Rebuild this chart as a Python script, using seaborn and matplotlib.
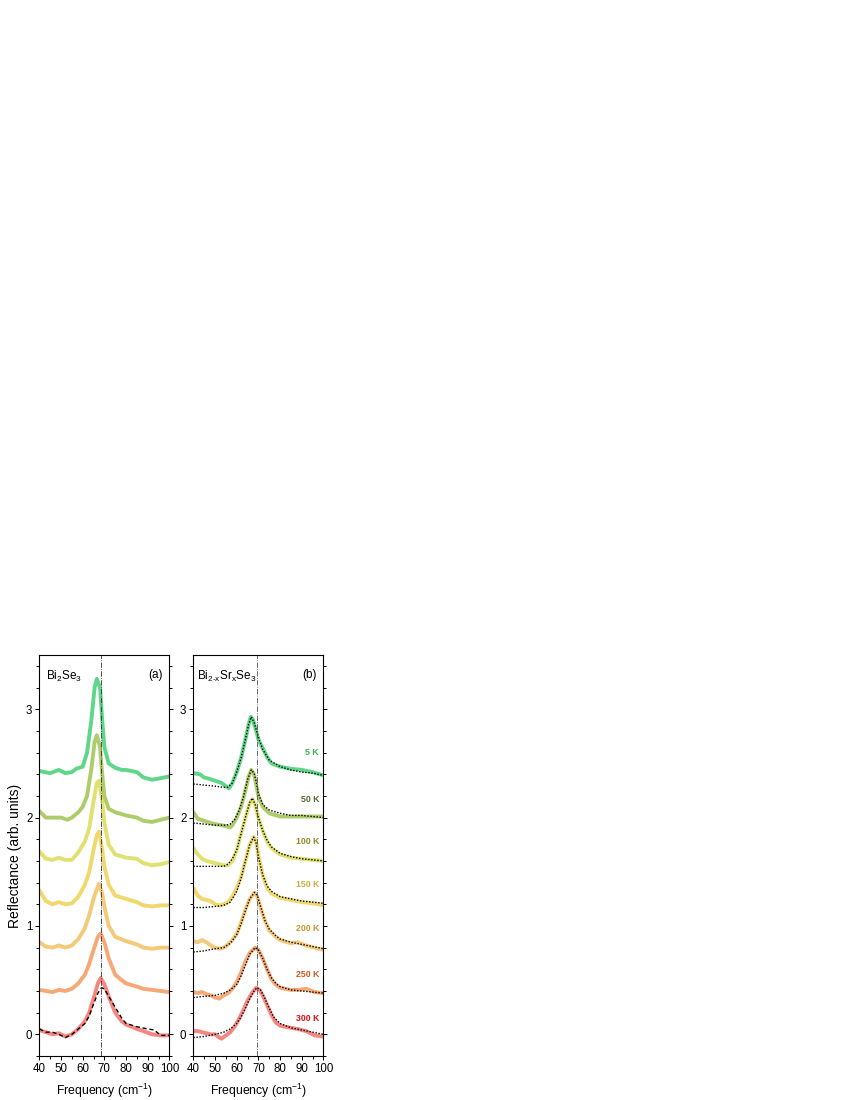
import numpy as np
import pandas as pd
import matplotlib
matplotlib.use('Agg')
import matplotlib.pyplot as plt
from matplotlib.ticker import MultipleLocator
import seaborn as sns

# ---- panel (a): Bi2Se3, offset spectra (bottom to top) ----
a_x_green = [40, 45, 49, 52, 55, 57, 60, 62, 64, 65.5, 66.5, 68, 69, 70, 72, 75, 78, 80, 85, 88, 92, 95, 100]
a_y_green = [2.43, 2.41, 2.44, 2.41, 2.42, 2.45, 2.47, 2.6, 2.9, 3.2, 3.28, 3.2, 2.9, 2.65, 2.5, 2.46, 2.44, 2.44, 2.42, 2.37, 2.35, 2.36, 2.38]

a_x_olive = [40, 43, 46, 50, 53, 55, 58, 60, 62, 64, 65.5, 66.5, 68, 69, 70, 72, 75, 80, 85, 88, 92, 96, 100]
a_y_olive = [2.06, 2.0, 2.0, 2.0, 1.98, 2.0, 2.05, 2.1, 2.2, 2.45, 2.7, 2.76, 2.65, 2.4, 2.2, 2.08, 2.05, 2.02, 2.0, 1.97, 1.96, 1.98, 2.0]

a_x_std = [40, 43, 46, 49, 52, 55, 58, 61, 63, 65, 66.5, 67.6, 69, 70, 72, 75, 80, 85, 88, 92, 96, 100]
a_y_lime = [1.69, 1.62, 1.61, 1.63, 1.61, 1.61, 1.68, 1.78, 1.9, 2.15, 2.32, 2.34, 2.15, 1.95, 1.75, 1.66, 1.63, 1.62, 1.58, 1.56, 1.57, 1.59]
a_y_yellow = [1.33, 1.23, 1.2, 1.22, 1.2, 1.21, 1.27, 1.38, 1.5, 1.7, 1.84, 1.87, 1.7, 1.55, 1.38, 1.28, 1.25, 1.22, 1.19, 1.18, 1.19, 1.19]
a_y_lorange = [0.85, 0.81, 0.8, 0.82, 0.8, 0.82, 0.88, 0.98, 1.1, 1.25, 1.34, 1.39, 1.3, 1.18, 1.0, 0.9, 0.86, 0.83, 0.8, 0.79, 0.8, 0.8]

a_x_low = [40, 43, 46, 49, 52, 55, 58, 61, 63, 65, 67, 68.3, 70, 72, 75, 78, 80, 85, 88, 92, 96, 100]
a_y_orange = [0.41, 0.4, 0.39, 0.41, 0.4, 0.42, 0.47, 0.55, 0.65, 0.78, 0.9, 0.93, 0.85, 0.7, 0.55, 0.5, 0.47, 0.44, 0.42, 0.41, 0.4, 0.39]
a_y_red = [0.04, 0.02, 0.0, 0.01, -0.02, 0.0, 0.05, 0.12, 0.2, 0.33, 0.47, 0.52, 0.46, 0.35, 0.2, 0.12, 0.09, 0.05, 0.03, 0.0, -0.01, -0.01]

a_fit_x = [40, 43, 46, 49, 52, 55, 58, 61, 63, 65, 67, 68.7, 70, 72, 75, 78, 80, 85, 90, 93, 96, 100]
a_fit_y = [0.05, 0.02, 0.02, 0.0, -0.03, 0.0, 0.05, 0.1, 0.17, 0.28, 0.38, 0.43, 0.42, 0.35, 0.25, 0.15, 0.1, 0.07, 0.05, 0.04, -0.01, -0.01]

a_colors = ['#f67a72', '#f5a067', '#f3c46a', '#efd45e', '#dede62', '#a5c85a', '#4fd27f']
a_series = [
    (a_x_low, a_y_red), (a_x_low, a_y_orange), (a_x_std, a_y_lorange),
    (a_x_std, a_y_yellow), (a_x_std, a_y_lime), (a_x_olive, a_y_olive),
    (a_x_green, a_y_green),
]

# ---- panel (b): Bi2-xSrxSe3, data and fits ----
temps = ['300 K', '250 K', '200 K', '150 K', '100 K', '50 K', '5 K']
b_colors = ['#f67a72', '#f5a067', '#f3c46a', '#efd45e', '#dede62', '#a5c85a', '#4fd27f']
label_colors = ['#e01010', '#c85a1e', '#c8962e', '#c8b040', '#8c8c20', '#556b2f', '#3cb44b']
label_y = [0.15, 0.55, 0.98, 1.38, 1.78, 2.17, 2.6]

b_x_5 = [40, 43, 45, 47, 50, 53, 55, 56.5, 58, 60, 62, 64, 65.5, 66.5, 67.5, 69, 70, 72, 74, 76, 80, 85, 90, 95, 100]
b_y_5 = [2.41, 2.4, 2.37, 2.36, 2.34, 2.32, 2.29, 2.27, 2.32, 2.42, 2.55, 2.72, 2.86, 2.93, 2.9, 2.8, 2.72, 2.64, 2.56, 2.5, 2.47, 2.45, 2.44, 2.42, 2.39]
f_x_5 = [40, 45, 50, 54, 56, 58, 60, 62, 64, 65.5, 66.7, 68, 70, 72, 75, 80, 85, 90, 95, 100]
f_y_5 = [2.31, 2.3, 2.29, 2.28, 2.28, 2.32, 2.42, 2.55, 2.72, 2.86, 2.93, 2.88, 2.74, 2.63, 2.53, 2.47, 2.44, 2.42, 2.41, 2.39]

b_x_50 = [40, 42, 45, 48, 50, 53, 55, 57, 58, 60, 62, 64, 65.5, 66.7, 68, 69, 70, 72, 75, 80, 85, 90, 95, 100]
b_y_50 = [2.05, 1.99, 1.97, 1.95, 1.94, 1.93, 1.92, 1.91, 1.93, 2.0, 2.1, 2.25, 2.38, 2.44, 2.4, 2.3, 2.2, 2.1, 2.04, 2.01, 2.01, 2.01, 2.01, 2.01]
f_x_50 = [40, 45, 50, 55, 57, 59, 61, 63, 65, 66.7, 68, 69, 70, 72, 75, 80, 85, 90, 95, 100]
f_y_50 = [1.95, 1.94, 1.93, 1.93, 1.94, 1.98, 2.06, 2.18, 2.35, 2.44, 2.41, 2.33, 2.22, 2.12, 2.07, 2.04, 2.02, 2.02, 2.01, 2.0]

b_x_100 = [40, 42, 44, 46, 48, 50, 52, 54, 56, 58, 60, 62, 64, 66, 67.2, 68.5, 70, 72, 74, 76, 80, 85, 90, 95, 100]
b_y_100 = [1.72, 1.66, 1.62, 1.6, 1.59, 1.58, 1.57, 1.56, 1.56, 1.6, 1.7, 1.85, 2.0, 2.13, 2.17, 2.12, 2.0, 1.88, 1.78, 1.72, 1.66, 1.63, 1.62, 1.61, 1.6]
f_x_100 = [40, 45, 50, 54, 56, 58, 60, 62, 64, 66, 67.2, 68.5, 70, 72, 74, 76, 80, 85, 90, 95, 100]
f_y_100 = [1.55, 1.55, 1.55, 1.55, 1.57, 1.62, 1.7, 1.85, 2.0, 2.14, 2.18, 2.12, 2.0, 1.88, 1.79, 1.73, 1.67, 1.64, 1.62, 1.61, 1.6]

b_x_150 = [40, 42, 44, 46, 48, 50, 52, 54, 56, 58, 60, 62, 64, 66, 67.8, 69, 70, 72, 74, 76, 80, 85, 90, 95, 100]
b_y_150 = [1.35, 1.28, 1.25, 1.24, 1.23, 1.2, 1.19, 1.2, 1.22, 1.27, 1.35, 1.45, 1.6, 1.75, 1.82, 1.78, 1.65, 1.47, 1.35, 1.3, 1.26, 1.24, 1.22, 1.21, 1.19]
f_x_150 = [40, 45, 50, 54, 57, 60, 62, 64, 66, 67.8, 69, 70, 72, 74, 76, 80, 85, 90, 95, 100]
f_y_150 = [1.17, 1.17, 1.18, 1.19, 1.22, 1.32, 1.44, 1.6, 1.75, 1.82, 1.76, 1.64, 1.47, 1.37, 1.32, 1.27, 1.25, 1.23, 1.22, 1.21]

b_x_200 = [40, 42, 44, 46, 48, 50, 52, 54, 56, 58, 60, 62, 64, 66, 68.2, 69.5, 71, 73, 75, 78, 80, 85, 88, 92, 96, 100]
b_y_200 = [0.86, 0.85, 0.87, 0.85, 0.82, 0.8, 0.79, 0.8, 0.83, 0.87, 0.93, 1.03, 1.15, 1.25, 1.31, 1.27, 1.17, 1.05, 0.96, 0.9, 0.87, 0.84, 0.85, 0.82, 0.8, 0.78]
f_x_200 = [40, 45, 50, 54, 57, 60, 62, 64, 66, 68.2, 69.5, 71, 73, 75, 78, 80, 85, 90, 95, 100]
f_y_200 = [0.76, 0.77, 0.79, 0.8, 0.84, 0.92, 1.02, 1.14, 1.25, 1.31, 1.28, 1.18, 1.05, 0.97, 0.91, 0.88, 0.85, 0.83, 0.81, 0.79]

b_x_250 = [40, 42, 44, 46, 48, 50, 52, 54, 56, 58, 60, 62, 64, 66, 68.5, 70, 72, 74, 76, 78, 80, 85, 88, 92, 96, 100]
b_y_250 = [0.39, 0.38, 0.39, 0.37, 0.36, 0.34, 0.33, 0.36, 0.38, 0.42, 0.48, 0.57, 0.67, 0.75, 0.8, 0.78, 0.7, 0.6, 0.51, 0.46, 0.43, 0.41, 0.41, 0.42, 0.39, 0.38]
f_x_250 = [40, 45, 50, 54, 57, 60, 62, 64, 66, 68.5, 70, 72, 74, 76, 78, 80, 85, 90, 95, 100]
f_y_250 = [0.34, 0.35, 0.36, 0.38, 0.41, 0.46, 0.54, 0.64, 0.74, 0.8, 0.78, 0.7, 0.6, 0.52, 0.47, 0.44, 0.41, 0.4, 0.39, 0.38]

b_x_300 = [40, 42, 44, 46, 48, 50, 52, 53, 55, 57, 59, 61, 63, 65, 67, 69, 70.5, 72, 74, 76, 78, 80, 85, 88, 92, 96, 100]
b_y_300 = [0.03, 0.03, 0.02, 0.01, 0.0, 0.0, -0.03, -0.04, -0.01, 0.02, 0.07, 0.14, 0.22, 0.31, 0.38, 0.43, 0.41, 0.36, 0.27, 0.18, 0.11, 0.08, 0.06, 0.05, 0.03, -0.01, -0.02]
f_x_300 = [40, 45, 50, 54, 57, 60, 62, 64, 66, 68, 69.3, 71, 73, 75, 77, 80, 85, 90, 95, 100]
f_y_300 = [-0.03, -0.02, 0.0, 0.02, 0.05, 0.1, 0.16, 0.24, 0.33, 0.4, 0.43, 0.41, 0.33, 0.24, 0.16, 0.1, 0.06, 0.04, 0.02, 0.0]

b_data = [(b_x_300, b_y_300), (b_x_250, b_y_250), (b_x_200, b_y_200), (b_x_150, b_y_150),
          (b_x_100, b_y_100), (b_x_50, b_y_50), (b_x_5, b_y_5)]
b_fits = [(f_x_300, f_y_300), (f_x_250, f_y_250), (f_x_200, f_y_200), (f_x_150, f_y_150),
          (f_x_100, f_y_100), (f_x_50, f_y_50), (f_x_5, f_y_5)]

peak_a = 68.3
peak_b = 69.5

sns.set_theme(style="ticks")
plt.rcParams['font.family'] = ['Liberation Sans', 'DejaVu Sans']
plt.rcParams['mathtext.fontset'] = 'custom'
plt.rcParams['mathtext.rm'] = 'Liberation Sans'
plt.rcParams['mathtext.it'] = 'Liberation Sans:italic'
plt.rcParams['text.color'] = 'black'
plt.rcParams['axes.labelcolor'] = 'black'

fig = plt.figure(figsize=(8.5, 11), dpi=100)
ax_a = fig.add_axes([0.0463, 0.040, 0.153, 0.3645])
ax_b = fig.add_axes([0.2275, 0.040, 0.153, 0.3645])


def style_axis(ax):
    ax.set_xlim(40, 100)
    ax.set_ylim(-0.2, 3.5)
    ax.xaxis.set_major_locator(MultipleLocator(10))
    ax.xaxis.set_minor_locator(MultipleLocator(5))
    ax.yaxis.set_major_locator(MultipleLocator(1))
    ax.yaxis.set_minor_locator(MultipleLocator(0.2))
    ax.tick_params(axis='both', which='both', direction='out', colors='black',
                   labelsize=8.3, left=True, right=True, top=False, bottom=True, pad=2)
    ax.tick_params(which='major', length=3, width=0.7)
    ax.tick_params(which='minor', length=2, width=0.7)
    for s in ax.spines.values():
        s.set_linewidth(0.8)
        s.set_color('black')
    ax.set_xlabel('Frequency (cm$^{-1}$)', fontsize=8.8, labelpad=5)
    ax.set_ylabel('')


# panel (a)
for (xs, ys), c in zip(a_series, a_colors):
    sns.lineplot(x=xs, y=ys, ax=ax_a, color=c, lw=2.8, alpha=0.9, solid_capstyle='round')
sns.lineplot(x=a_fit_x, y=a_fit_y, ax=ax_a, color='black', lw=1.0, linestyle=(0, (3, 2)))
ax_a.axvline(peak_a, color='#333333', lw=0.6, linestyle='-.')
style_axis(ax_a)
ax_a.set_ylabel('Reflectance (arb. units)', fontsize=10, labelpad=3)
ax_a.text(0.05, 0.965, 'Bi$_2$Se$_3$', transform=ax_a.transAxes, fontsize=8.5, va='top', ha='left')
ax_a.text(0.95, 0.965, '(a)', transform=ax_a.transAxes, fontsize=8.5, va='top', ha='right')

# panel (b)
for (xs, ys), c in zip(b_data, b_colors):
    sns.lineplot(x=xs, y=ys, ax=ax_b, color=c, lw=2.8, alpha=0.9, solid_capstyle='round')
for xs, ys in b_fits:
    sns.lineplot(x=xs, y=ys, ax=ax_b, color='black', lw=1.0, linestyle=(0, (1, 1.2)))
ax_b.axvline(peak_b, color='#555555', lw=0.6, linestyle='-.')
style_axis(ax_b)
for t, ly, lc in zip(temps, label_y, label_colors):
    ax_b.text(98, ly, t, color=lc, fontsize=6.3, fontweight='bold', ha='right', va='center')
ax_b.text(0.03, 0.965, 'Bi$_{\\mathrm{2\u2010x}}$Sr$_{\\mathrm{x}}$Se$_3$', transform=ax_b.transAxes,
          fontsize=8.5, va='top', ha='left')
ax_b.text(0.95, 0.965, '(b)', transform=ax_b.transAxes, fontsize=8.5, va='top', ha='right')

fig.savefig('out.png', dpi=100)
